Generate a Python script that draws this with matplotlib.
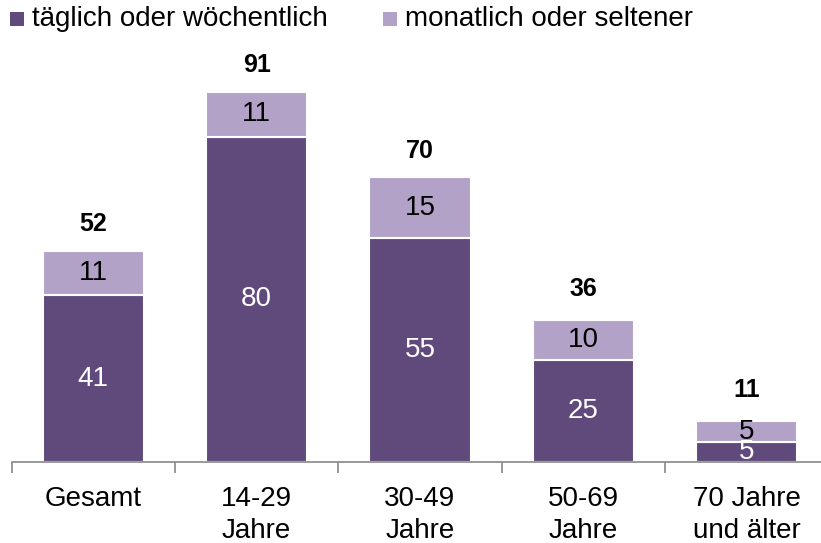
import matplotlib
matplotlib.use("Agg")
import matplotlib.pyplot as plt
from matplotlib.patches import Rectangle
import numpy as np

plt.rcParams['font.family'] = ['Liberation Sans', 'DejaVu Sans']

categories = ["Gesamt", "14-29\nJahre", "30-49\nJahre", "50-69\nJahre", "70 Jahre\nund älter"]
daily_weekly = [41, 80, 55, 25, 5]
monthly_less = [11, 11, 15, 10, 5]
totals = [52, 91, 70, 36, 11]
series_names = ["täglich oder wöchentlich", "monatlich oder seltener"]

dark = "#604A7B"
light = "#B3A2C7"
colors = [dark, light]

fig = plt.figure(figsize=(8.21, 5.43), dpi=100)
W, H = 821, 543
x0, x1 = 11.5, 828.5
y0 = 462
ymax = 100
pxu = 4.066
ax = fig.add_axes([x0 / W, (H - y0) / H, (x1 - x0) / W, ymax * pxu / H])

x = np.arange(len(categories))
bw = 0.62
ax.bar(x, daily_weekly, bw, color=dark, edgecolor="white", linewidth=1.5)
ax.bar(x, monthly_less, bw, bottom=daily_weekly, color=light, edgecolor="white", linewidth=1.5)

for i in range(len(x)):
    ax.text(x[i], daily_weekly[i] / 2, str(daily_weekly[i]), ha="center", va="center",
            color="white", fontsize=20)
    ax.text(x[i], daily_weekly[i] + monthly_less[i] / 2, str(monthly_less[i]), ha="center",
            va="center", color="black", fontsize=20)
    ax.text(x[i], totals[i] + 6.6, str(totals[i]), ha="center", va="center",
            color="black", fontsize=18, fontweight="bold")

ax.set_xlim(-0.5, len(categories) - 0.5)
ax.set_ylim(0, ymax)
ax.set_xticks(x)
ax.set_xticklabels(categories, fontsize=20, linespacing=1.3)
ax.tick_params(axis="x", which="major", length=0, pad=17)
ax.set_xticks(np.arange(len(categories) + 1) - 0.5, minor=True)
ax.tick_params(axis="x", which="minor", length=8, width=1.2, color="#888888", direction="out")
ax.set_yticks([])
for s in ["top", "right", "left"]:
    ax.spines[s].set_visible(False)
ax.spines["bottom"].set_color("#888888")
ax.spines["bottom"].set_linewidth(1.2)

# legend (manual placement, pixel positions from top-left)
leg_items = [(10, 32), (383, 405)]
for (mx, tx), name, c in zip(leg_items, series_names, colors):
    fig.add_artist(Rectangle((mx / W, (H - 26) / H), 14 / W, 14 / H,
                             transform=fig.transFigure, facecolor=c, edgecolor="none"))
    fig.text(tx / W, (H - 26) / H, name, ha="left", va="baseline", fontsize=20)

fig.savefig("out.png", dpi=100)
